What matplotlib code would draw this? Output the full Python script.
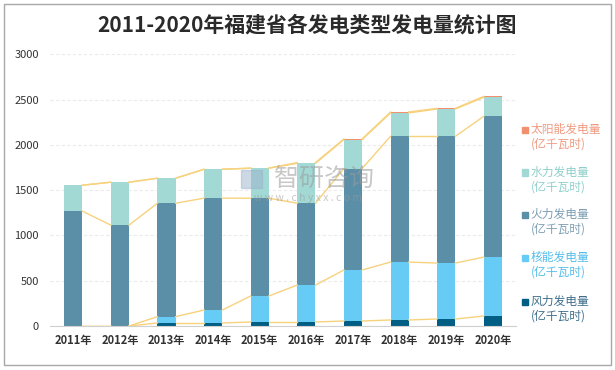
import numpy as np
import matplotlib.pyplot as plt
from matplotlib.patches import Rectangle

plt.rcParams['font.family'] = ['Noto Sans CJK SC', 'DejaVu Sans']

years = ["2011年", "2012年", "2013年", "2014年", "2015年",
         "2016年", "2017年", "2018年", "2019年", "2020年"]
wind = [0, 0, 33, 33, 44, 44, 55, 66, 77, 110]
nuclear = [0, 0, 70, 143, 287, 408, 563, 640, 618, 651]
thermal = [1268, 1114, 1253, 1236, 1080, 904, 1121, 1389, 1400, 1555]
hydro = [287, 474, 276, 319, 331, 441, 320, 258, 302, 209]
solar = [0, 0, 0, 0, 2, 8, 7, 11, 7, 11]

names = ["风力发电量", "核能发电量", "火力发电量", "水力发电量", "太阳能发电量"]
colors = ["#005E84", "#66CCF5", "#5B8FA8", "#A3D9D5", "#F0906E"]
text_colors = ["#3E6F8C", "#55BDEB", "#7E9EB3", "#8FCFCB", "#F09A80"]
series = [wind, nuclear, thermal, hydro, solar]

fig = plt.figure(figsize=(6.15, 3.7), dpi=100)
ax = fig.add_axes([0.0813, 0.119, 0.758, 0.734])

x = np.arange(len(years))
w = 0.39
bottom = np.zeros(len(years))
for vals, c in zip(series, colors):
    v = np.array(vals, dtype=float)
    ax.bar(x, v, w, bottom=bottom, color=c, zorder=2)
    bottom = bottom + v
    # series lines between bars
    for i in range(len(x) - 1):
        ax.plot([x[i] + w / 2, x[i + 1] - w / 2], [bottom[i], bottom[i + 1]],
                color="#F7D27E", lw=1, zorder=3)

ax.set_xlim(-0.5, len(years) - 0.5)
ax.set_ylim(0, 3000)
ax.set_yticks(np.arange(0, 3001, 500))
ax.set_xticks(x)
ax.set_xticklabels(years, fontsize=8, fontweight="bold", color="#333333")
ax.tick_params(axis="y", labelsize=8, colors="#333333", length=0, pad=8)
ax.tick_params(axis="x", length=0, pad=6)
ax.grid(axis="y", color="#EBEBEB", lw=0.8, ls=(0, (3, 2)), zorder=0)
for s in ["top", "right", "left"]:
    ax.spines[s].set_visible(False)
ax.spines["bottom"].set_color("#D0D0D0")

fig.text(0.5, 0.932, "2011-2020年福建省各发电类型发电量统计图",
         ha="center", va="center", fontsize=15, fontweight="bold", color="#2a2a2a")

# legend, top entry is solar
ys = [0.651, 0.535, 0.421, 0.305, 0.186]
for k, yy in zip(range(4, -1, -1), ys):
    fig.patches.append(Rectangle((0.848, yy - 0.011), 0.011, 0.018,
                                 transform=fig.transFigure, color=colors[k]))
    fig.text(0.863, yy, names[k], fontsize=8.5, color=text_colors[k], va="center")
    fig.text(0.863, yy - 0.04, "(亿千瓦时)", fontsize=8.5, color=text_colors[k], va="center")

# watermark
fig.patches.append(Rectangle((0.392, 0.492), 0.034, 0.048, transform=fig.transFigure,
                             color="#9DB3CC", alpha=0.5, zorder=5))
fig.text(0.527, 0.516, "智研咨询", fontsize=18, color="#9a9a9a", alpha=0.55,
         ha="center", va="center", zorder=5)
fig.text(0.5, 0.466, "w w w . c h y x x . c o m", fontsize=7.5, color="#9a9a9a",
         alpha=0.55, ha="center", va="center", zorder=5)

# outer frame
fig.patches.append(Rectangle((0.007, 0.014), 0.986, 0.976, transform=fig.transFigure,
                             fill=False, edgecolor="#A8A8A8", lw=1))

fig.savefig("out.png", dpi=100)
